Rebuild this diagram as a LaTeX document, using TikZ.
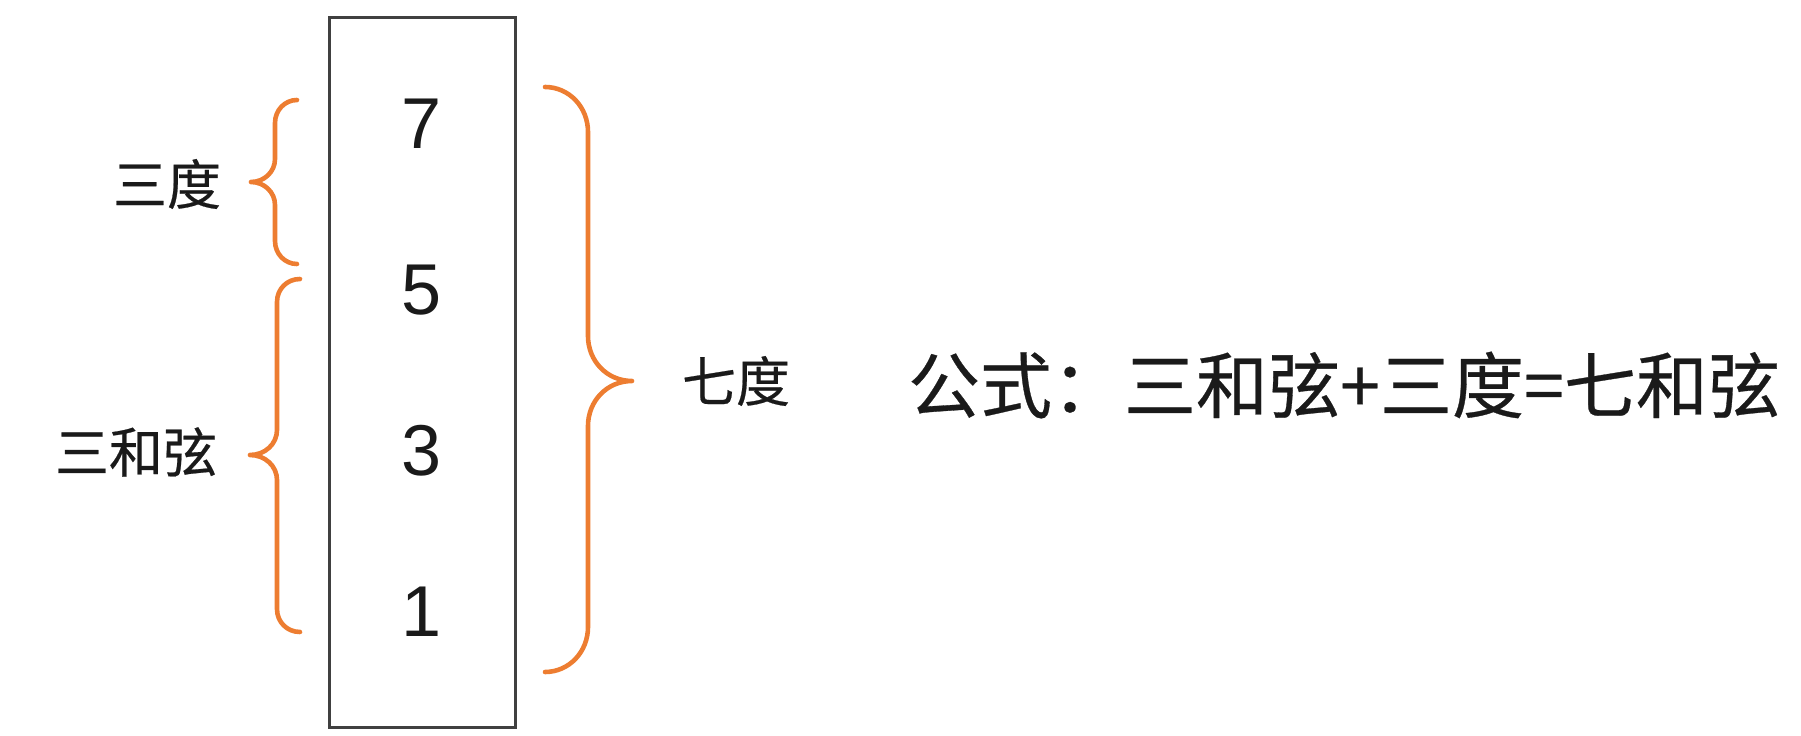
\documentclass[tikz,border=0pt]{standalone}
\usepackage{fontspec}
\setmainfont{Liberation Sans}
\newfontfamily\cjk[FakeBold=0.4]{Noto Sans CJK SC}
\definecolor{braceorange}{HTML}{ED7D31}
\definecolor{boxgray}{HTML}{404040}
\definecolor{inkblack}{HTML}{1A1A1A}

\begin{document}
\begin{tikzpicture}[x=0.5pt, y=0.5pt,
    note/.style={font=\cjk\fontsize{27}{27}\selectfont, text=inkblack, inner sep=0pt},
    formula/.style={font=\cjk\fontsize{36}{36}\selectfont, text=inkblack, inner sep=0pt},
    degree/.style={font=\fontsize{36}{36}\selectfont, text=inkblack, inner sep=0pt},
    curly/.style={draw=braceorange, line width=2.3pt, line cap=round, line join=round}]
  \useasboundingbox (0,0) rectangle (1801,735);
  % the chord tones
  \draw[boxgray, line width=1.5pt] (329,8) rectangle (515,717);
  \node[degree] (n7) at (422,611) {7};
  \node[degree] (n5) at (422,445) {5};
  \node[degree] (n3) at (422,284) {3};
  \node[degree] (n1) at (422,123) {1};
  % brace ends
  \coordinate (thirdtop) at (297,635);
  \coordinate (thirdbot) at (297,471);
  \coordinate (triadtop) at (300,456);
  \coordinate (triadbot) at (300,103);
  \coordinate (seventhtop) at (545,648);
  \coordinate (seventhbot) at (545,63);
  \draw[curly] (thirdtop) .. controls (285,635) and (275,625) .. (275,612) -- (275,576)
    .. controls (275,563) and (264,553) .. (251,553) .. controls (264,553) and (275,543) .. (275,530)
    -- (275,494) .. controls (275,481) and (285,471) .. (thirdbot);
  \draw[curly] (triadtop) .. controls (287,456) and (277,446) .. (277,433) -- (277,305)
    .. controls (277,291) and (265,280) .. (250,280) .. controls (265,280) and (277,269) .. (277,255)
    -- (277,126) .. controls (277,113) and (287,103) .. (triadbot);
  \draw[curly] (seventhtop) .. controls (569,648) and (588,628) .. (588,603) -- (588,399)
    .. controls (588,374) and (607,354) .. (632,354) .. controls (607,354) and (588,334) .. (588,309)
    -- (588,108) .. controls (588,83) and (569,63) .. (seventhbot);
  % labels
  \node[note] (third) at (167,551) {三度};
  \node[note] (triad) at (136,283) {三和弦};
  \node[note] (seventh) at (736,354) {七度};
  \node[formula] (rule) at (1344,350) {公式：三和弦+三度=七和弦};
\end{tikzpicture}
\end{document}
